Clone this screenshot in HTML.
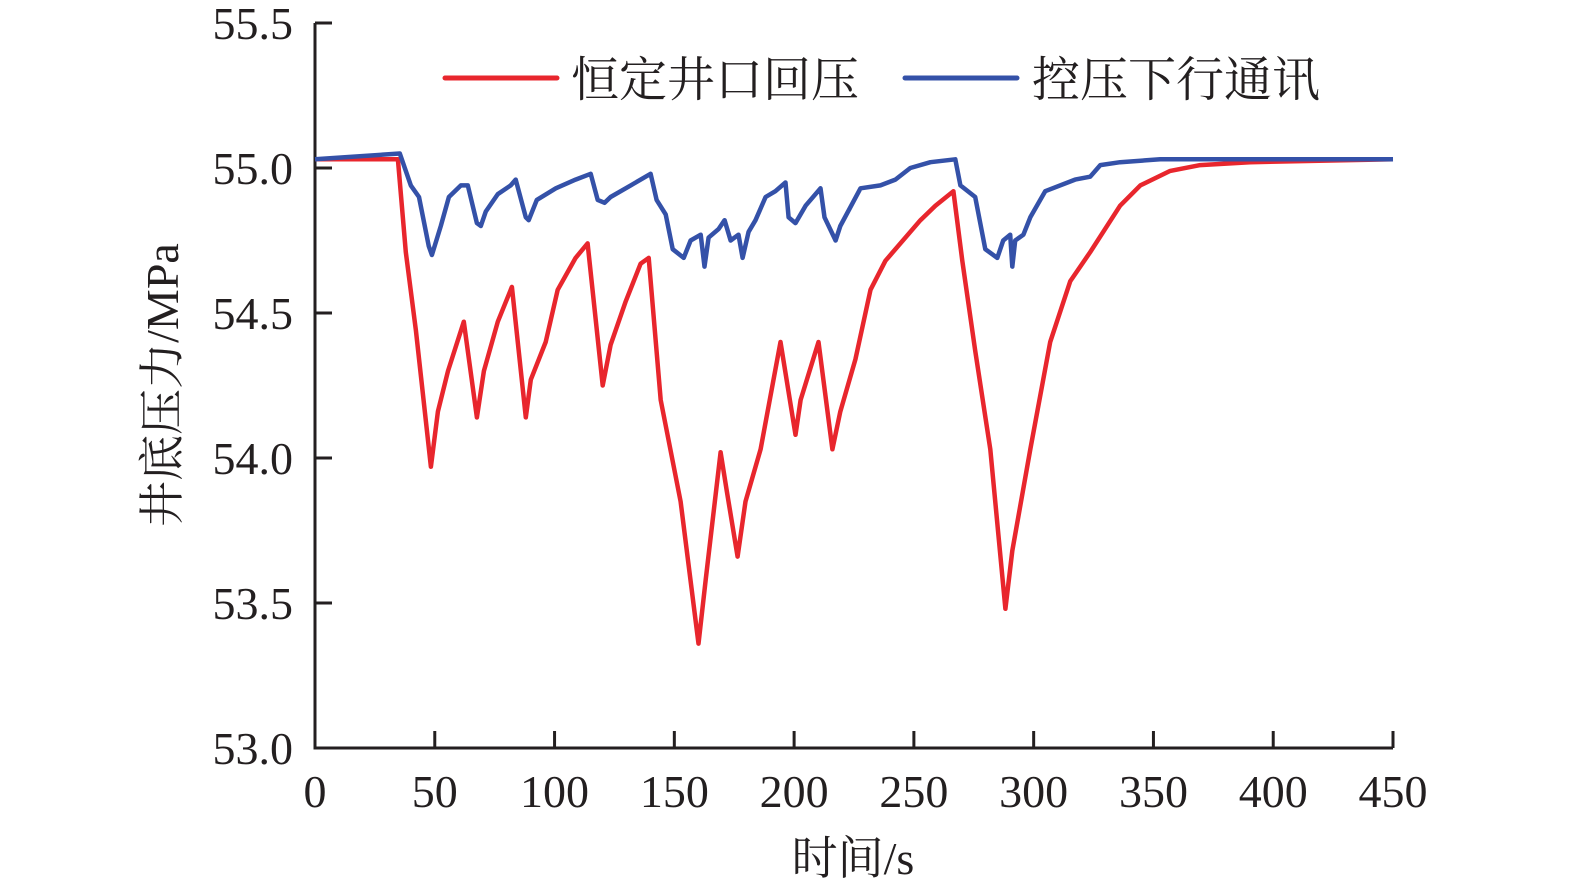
<!DOCTYPE html>
<html><head><meta charset="utf-8"><style>
html,body{margin:0;padding:0;background:#fff;width:1575px;height:896px;overflow:hidden}
text{font-family:"Liberation Serif","Noto Serif CJK SC","Noto Sans CJK SC",serif;fill:#231f20}
</style></head><body>
<svg id="chart" width="1575" height="896" viewBox="0 0 1575 896" xmlns="http://www.w3.org/2000/svg">
<g id="axes"></g>
<g id="series"></g>
<g>
  <line x1="445" y1="78" x2="557" y2="78" stroke="#e8262d" stroke-width="5" stroke-linecap="round"/>
  <text x="571" y="96" font-size="48">恒定井口回压</text>
  <line x1="905" y1="78" x2="1017" y2="78" stroke="#3451a8" stroke-width="5" stroke-linecap="round"/>
  <text x="1032" y="96" font-size="48">控压下行通讯</text>
</g>
<text x="853" y="874" font-size="46" text-anchor="middle">时间/s</text>
<text transform="translate(178,385) rotate(-90)" font-size="46" text-anchor="middle">井底压力/MPa</text>
</svg>
<script>
const xTicks = [0,50,100,150,200,250,300,350,400,450];
const yTicks = [53.0,53.5,54.0,54.5,55.0,55.5];
const yTickLabels = ["53.0","53.5","54.0","54.5","55.0","55.5"];
const redT = [0,34.6,37.9,42.1,48.4,51.3,55.5,62.1,67.6,70.5,76.3,82.2,88.0,90.1,96.3,101.3,108.8,113.8,120.1,123.4,129.7,135.9,139.3,144.3,152.6,160.1,163.1,169.3,171.8,176.4,179.7,186.0,194.3,200.6,202.7,210.2,216.0,219.3,225.6,231.9,238.1,252.7,259.0,266.5,270.2,275.6,281.9,288.2,291.1,298.6,306.9,315.3,323.6,336.1,344.5,357.0,369.5,390.3,450];
const redP = [55.03,55.03,54.71,54.44,53.97,54.16,54.30,54.47,54.14,54.30,54.47,54.59,54.14,54.27,54.40,54.58,54.69,54.74,54.25,54.39,54.54,54.67,54.69,54.20,53.85,53.36,53.58,54.02,53.89,53.66,53.85,54.03,54.40,54.08,54.20,54.40,54.03,54.16,54.34,54.58,54.68,54.82,54.87,54.92,54.68,54.37,54.03,53.48,53.68,54.03,54.40,54.61,54.71,54.87,54.94,54.99,55.01,55.02,55.03];
const blueT = [0,35.4,40.0,43.4,47.5,48.8,52.5,55.9,60.9,63.8,67.6,69.2,71.3,76.3,81.7,83.8,88.0,89.2,92.6,100.5,108.8,115.1,118.0,120.9,123.4,131.8,140.1,142.6,146.4,149.3,153.9,156.8,161.0,162.6,164.3,168.5,171.0,173.5,176.8,178.5,181.0,183.9,188.1,192.2,196.4,197.7,200.6,204.8,211.0,212.7,217.3,219.3,227.7,236.0,242.3,248.5,256.9,267.3,269.4,275.6,279.8,284.8,287.3,290.2,291.1,292.3,295.7,298.6,304.8,317.3,323.6,327.8,336.1,352.8,450];
const blueP = [55.03,55.05,54.94,54.90,54.73,54.70,54.80,54.90,54.94,54.94,54.81,54.80,54.85,54.91,54.94,54.96,54.83,54.82,54.89,54.93,54.96,54.98,54.89,54.88,54.90,54.94,54.98,54.89,54.84,54.72,54.69,54.75,54.77,54.66,54.76,54.79,54.82,54.75,54.77,54.69,54.78,54.82,54.90,54.92,54.95,54.83,54.81,54.87,54.93,54.83,54.75,54.80,54.93,54.94,54.96,55.00,55.02,55.03,54.94,54.90,54.72,54.69,54.75,54.77,54.66,54.75,54.77,54.83,54.92,54.96,54.97,55.01,55.02,55.03,55.03];

const NS = "http://www.w3.org/2000/svg";
const X0 = 315, X1 = 1393, Y0 = 748, Y1 = 23;
function xs(t){ return X0 + (t - 0) / 450 * (X1 - X0); }
function ys(p){ return Y0 - (p - 53.0) / 2.5 * (Y0 - Y1); }
function mk(tag, attrs, parent){
  const e = document.createElementNS(NS, tag);
  for (const k in attrs) e.setAttribute(k, attrs[k]);
  parent.appendChild(e); return e;
}
const axes = document.getElementById('axes');
const series = document.getElementById('series');
const ya = mk('line', {x1:X0, y1:Y1, x2:X0, y2:Y0, stroke:'#231f20', 'stroke-width':3}, axes);


const xa = mk('line', {x1:X0-1.5, y1:Y0, x2:X1, y2:Y0, stroke:'#231f20', 'stroke-width':3}, axes);


yTicks.forEach((v, i) => {
  const y = ys(v);
  const tk = mk('line', {x1:X0, y1:y, x2:X0+17, y2:y, stroke:'#231f20', 'stroke-width':3}, axes);
  
  
  const tx = mk('text', {x:293, y:y+16, 'font-size':46, 'text-anchor':'end'}, axes);
  tx.textContent = yTickLabels[i];
  
  
});
xTicks.forEach(v => {
  const x = xs(v);
  const tk = mk('line', {x1:x, y1:Y0, x2:x, y2:Y0-17, stroke:'#231f20', 'stroke-width':3}, axes);
  
  
  const tx = mk('text', {x:x, y:807, 'font-size':46, 'text-anchor':'middle'}, axes);
  tx.textContent = String(v);
  
  
});
function pts(T, P){ return T.map((t, i) => xs(t).toFixed(1) + ',' + ys(P[i]).toFixed(1)).join(' '); }
const red = mk('polyline', {points:pts(redT, redP), fill:'none', stroke:'#e8262d', 'stroke-width':4.5, 'stroke-linejoin':'round'}, series);


const blue = mk('polyline', {points:pts(blueT, blueP), fill:'none', stroke:'#3451a8', 'stroke-width':4.5, 'stroke-linejoin':'round'}, series);


</script>
</body></html>
